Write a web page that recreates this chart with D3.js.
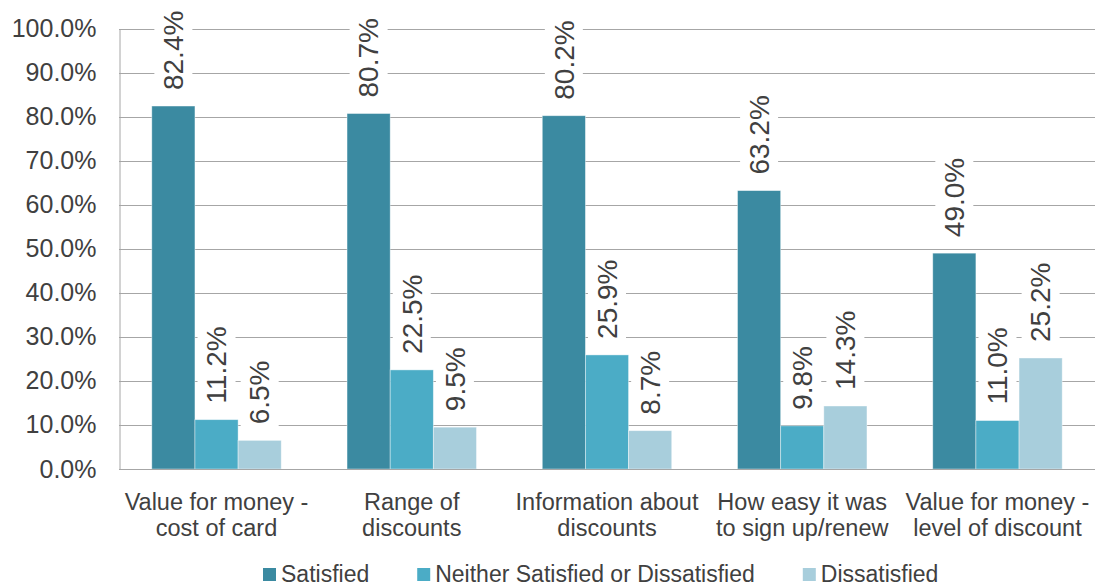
<!DOCTYPE html>
<html>
<head>
<meta charset="utf-8">
<script src="https://cdn.jsdelivr.net/npm/d3@7"></script>
<style>
  html, body { margin: 0; padding: 0; background: #fff; }
  svg { display: block; font-family: "Liberation Sans", Arial, sans-serif; }
</style>
</head>
<body>
<svg id="chart" width="1096" height="586"></svg>
<script>
// ---- data ----
const categories = [
  ["Value for money -", "cost of card"],
  ["Range of", "discounts"],
  ["Information about", "discounts"],
  ["How easy it was", "to sign up/renew"],
  ["Value for money -", "level of discount"]
];
const seriesNames = ["Satisfied", "Neither Satisfied or Dissatisfied", "Dissatisfied"];
const satisfied = [0.824, 0.807, 0.802, 0.632, 0.490];
const neither = [0.112, 0.225, 0.259, 0.098, 0.110];
const dissatisfied = [0.065, 0.095, 0.087, 0.143, 0.252];
const yTicks = [0, 0.1, 0.2, 0.3, 0.4, 0.5, 0.6, 0.7, 0.8, 0.9, 1.0];
const colors = ["#3B8AA1", "#4BACC6", "#A8CEDC"];

const seriesValues = [satisfied, neither, dissatisfied];

// ---- layout ----
const svg = d3.select("#chart");
const margin = { left: 119, right: 1, top: 28.5, bottom: 117 };
const W = 1096, H = 586;
const x0 = margin.left, x1 = W - margin.right;
const yTop = margin.top, yBot = 469;
const textColor = "#404040";

const x = d3.scaleBand().domain(d3.range(categories.length)).range([x0, x1]).paddingInner(0.337).paddingOuter(0.168);
const xs = d3.scaleBand().domain(d3.range(seriesNames.length)).range([0, x.bandwidth()]);
const y = d3.scaleLinear().domain([0, 1]).range([yBot, yTop]);

// gridlines
svg.append("g").selectAll("line").data(yTicks.filter(d => d > 0)).join("line")
  .attr("x1", x0).attr("x2", x1)
  .attr("y1", d => Math.round(y(d)) + 0.5).attr("y2", d => Math.round(y(d)) + 0.5)
  .attr("stroke", "#A6A6A6").attr("stroke-width", 1);

// y axis
const yAxis = d3.axisLeft(y).tickValues(yTicks).tickFormat(d3.format(".1%")).tickSize(0).tickPadding(23);
const gy = svg.append("g").attr("transform", `translate(${x0 + 0.5},0)`).call(yAxis);
gy.select(".domain").attr("stroke", "#A6A6A6");
gy.selectAll("text").attr("font-size", 25).attr("fill", textColor).attr("font-family", "Liberation Sans, Arial, sans-serif");

// bars
const groups = svg.append("g").selectAll("g").data(categories).join("g")
  .attr("transform", (d, i) => `translate(${x(i)},0)`);

groups.selectAll("rect").data((d, i) => seriesValues.map((s, k) => ({ k, v: s[i] }))).join("rect")
  .attr("x", d => xs(d.k))
  .attr("y", d => y(d.v))
  .attr("width", xs.bandwidth())
  .attr("height", d => yBot - y(d.v))
  .attr("fill", d => colors[d.k])
  .attr("stroke", "rgba(255,255,255,0.5)")
  .attr("stroke-width", 0.8);

// data labels with white boxes
const fmt = d3.format(".1%");
const labelSize = 28;
groups.each(function (d, i) {
  const g = d3.select(this);
  seriesValues.forEach((s, k) => {
    const v = s[i];
    const cx = xs(k) + xs.bandwidth() / 2;
    const startY = y(v) - 16;
    const lg = g.append("g").attr("transform", `translate(${cx},${startY})`);
    const t = lg.append("text")
      .attr("transform", "rotate(-90)")
      .attr("x", 0).attr("y", 0).attr("dy", "0.35em")
      .attr("font-size", labelSize)
      .attr("fill", textColor)
      .text(fmt(v));
    const len = t.node().getComputedTextLength();
    lg.insert("rect", "text")
      .attr("x", -19).attr("width", 38)
      .attr("y", -len - 5).attr("height", len + 9)
      .attr("fill", "#fff");
  });
});

// bottom axis line
svg.append("line").attr("x1", x0).attr("x2", x1).attr("y1", yBot + 0.5).attr("y2", yBot + 0.5)
  .attr("stroke", "#A6A6A6");

// x labels
const xl = svg.append("g").selectAll("text").data(categories).join("text")
  .attr("text-anchor", "middle")
  .attr("font-size", 23.5)
  .attr("fill", textColor)
  .attr("x", (d, i) => x(i) + x.bandwidth() / 2);
xl.selectAll("tspan").data(d => d).join("tspan")
  .attr("x", function () { return this.parentNode.getAttribute("x"); })
  .attr("y", (d, j) => 510 + j * 25.5)
  .text(d => d);

// legend
const leg = svg.append("g");
let lx = 263;
seriesNames.forEach((name, k) => {
  leg.append("rect").attr("x", lx).attr("y", 568).attr("width", 13).attr("height", 13).attr("fill", colors[k]);
  const t = leg.append("text").attr("x", lx + 18).attr("y", 582).attr("font-size", 23).attr("fill", textColor).text(name);
  lx += 18 + t.node().getComputedTextLength() + 48;
});
</script>
</body>
</html>
